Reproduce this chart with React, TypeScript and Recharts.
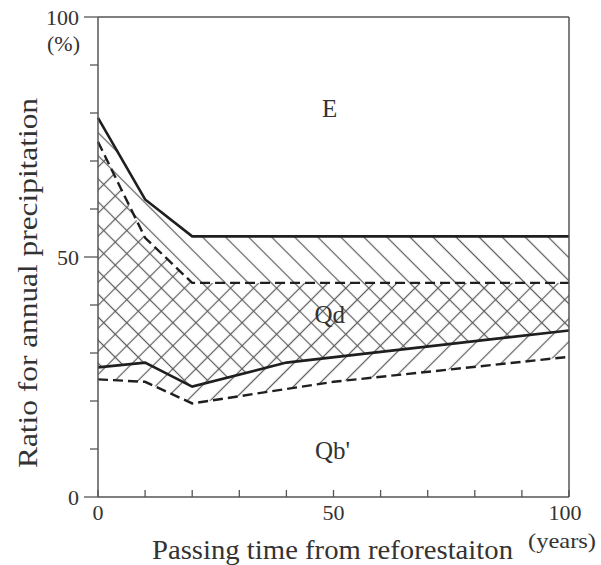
import { ComposedChart, Area, Line, XAxis, YAxis, ReferenceLine, ReferenceDot } from 'recharts';

// boundary lines (years after reforestation -> % of annual precipitation)
const upperSolidYears = [0, 10, 20, 100];
const upperSolidRatio = [79, 62, 54.3, 54.3];
const upperDashedYears = [0, 10, 20, 100];
const upperDashedRatio = [74, 54, 44.6, 44.6];
const lowerSolidYears = [0, 10, 20, 40, 100];
const lowerSolidRatio = [27, 28, 23, 28, 34.7];
const lowerDashedYears = [0, 10, 20, 50, 100];
const lowerDashedRatio = [24.5, 24, 19.5, 24, 29.2];

const xTicks = [0, 10, 20, 30, 40, 50, 60, 70, 80, 90, 100];
const yTicks = [0, 10, 20, 30, 40, 50, 60, 70, 80, 90, 100];
const labeledTicks = [0, 50, 100];

const zoneNames = ['E', 'Qd', "Qb'"];
const zoneYears = [49.2, 49.2, 49.8];
const zoneRatios = [80.9, 38, 9.7];

const toPoints = (years: number[], ratios: number[]) => years.map((t, i) => ({ t, v: ratios[i] }));

const upperSolid = toPoints(upperSolidYears, upperSolidRatio);
const upperDashed = toPoints(upperDashedYears, upperDashedRatio);
const lowerSolid = toPoints(lowerSolidYears, lowerSolidRatio);
const lowerDashed = toPoints(lowerDashedYears, lowerDashedRatio);

const serif = { fontFamily: "'Liberation Serif', 'Times New Roman', Tinos, serif" };
const TEXT = '#333';
const AXIS = '#555';
const INK = '#1f1f1f';
const HATCH = '#5c5c5c';
const STEP = 16.3;

function XTick({ x, y, payload }: any) {
  const v = payload.value;
  return (
    <g>
      <line x1={x} y1={y} x2={x} y2={y - 7} stroke={AXIS} strokeWidth={1.3} />
      {labeledTicks.includes(v) && (
        <text x={v === 100 ? x - 4 : x} y={y + 23} textAnchor="middle" style={serif} fontSize={22} fill={TEXT}>
          {v}
        </text>
      )}
      {v === 100 && (
        <text x={x - 7} y={y + 51} textAnchor="middle" style={serif} fontSize={22} fill={TEXT} textLength={68} lengthAdjust="spacingAndGlyphs">
          (years)
        </text>
      )}
    </g>
  );
}

function YTick({ x, y, payload }: any) {
  const v = payload.value;
  const major = labeledTicks.includes(v);
  return (
    <g>
      <line x1={x - (major ? 14 : 8)} y1={y} x2={x} y2={y} stroke={AXIS} strokeWidth={1.3} />
      {major && (
        <text x={x - 19} y={y + 7.5} textAnchor="end" style={serif} fontSize={22} fill={TEXT}>
          {v}
        </text>
      )}
      {v === 100 && (
        <text x={x - 18} y={y + 34} textAnchor="end" style={serif} fontSize={22} fill={TEXT}>
          (%)
        </text>
      )}
    </g>
  );
}

export default function App() {
  return (
    <div style={{ position: 'absolute', left: 0, top: 0, width: 601, height: 565, background: '#fff' }}>
      <ComposedChart width={601} height={565} margin={{ top: 17, right: 32, left: 0, bottom: 0 }}>
        <defs>
          <pattern id="hatchBack" patternUnits="userSpaceOnUse" width={STEP} height={STEP} patternTransform="rotate(-45)">
            <rect width={STEP} height={STEP} fill="#fff" />
            <line x1={STEP / 2} y1={0} x2={STEP / 2} y2={STEP} stroke={HATCH} strokeWidth={1.2} />
          </pattern>
          <pattern id="hatchCross" patternUnits="userSpaceOnUse" width={STEP} height={STEP} patternTransform="rotate(45)">
            <rect width={STEP} height={STEP} fill="#fff" />
            <line x1={STEP / 2} y1={0} x2={STEP / 2} y2={STEP} stroke={HATCH} strokeWidth={1.2} />
            <line x1={0} y1={STEP / 2} x2={STEP} y2={STEP / 2} stroke={HATCH} strokeWidth={1.2} />
          </pattern>
          <pattern id="hatchFwd" patternUnits="userSpaceOnUse" width={STEP} height={STEP} patternTransform="rotate(45)">
            <rect width={STEP} height={STEP} fill="#fff" />
            <line x1={STEP / 2} y1={0} x2={STEP / 2} y2={STEP} stroke={HATCH} strokeWidth={1.2} />
          </pattern>
        </defs>

        {/* stacked fills: each one paints over the one before, below its own boundary */}
        <Area data={upperSolid} dataKey="v" type="linear" stroke="none" fill="url(#hatchBack)" fillOpacity={1} isAnimationActive={false} />
        <Area data={upperDashed} dataKey="v" type="linear" stroke="none" fill="url(#hatchCross)" fillOpacity={1} isAnimationActive={false} />
        <Area data={lowerSolid} dataKey="v" type="linear" stroke="none" fill="url(#hatchFwd)" fillOpacity={1} isAnimationActive={false} />
        <Area data={lowerDashed} dataKey="v" type="linear" stroke="none" fill="#fff" fillOpacity={1} isAnimationActive={false} />

        <Line data={upperSolid} dataKey="v" type="linear" stroke={INK} strokeWidth={2.6} dot={false} isAnimationActive={false} />
        <Line data={upperDashed} dataKey="v" type="linear" stroke={INK} strokeWidth={2.4} strokeDasharray="10 5" dot={false} isAnimationActive={false} />
        <Line data={lowerSolid} dataKey="v" type="linear" stroke={INK} strokeWidth={2.6} dot={false} isAnimationActive={false} />
        <Line data={lowerDashed} dataKey="v" type="linear" stroke={INK} strokeWidth={2.4} strokeDasharray="10 5" dot={false} isAnimationActive={false} />

        <ReferenceLine x={100} stroke={AXIS} strokeWidth={1.5} />
        <ReferenceLine y={100} stroke={AXIS} strokeWidth={1.5} />

        {zoneNames.map((name, i) => (
          <ReferenceDot
            key={name}
            x={zoneYears[i]}
            y={zoneRatios[i]}
            r={0}
            fill="none"
            stroke="none"
            label={({ viewBox }: any) => (
              <text
                x={viewBox.x + viewBox.width / 2}
                y={viewBox.y + viewBox.height / 2 + 8.5}
                textAnchor="middle"
                style={serif}
                fontSize={25}
                fill={TEXT}
              >
                {name}
              </text>
            )}
          />
        ))}

        <XAxis
          type="number"
          dataKey="t"
          domain={[0, 100]}
          ticks={xTicks}
          interval={0}
          height={68}
          tickSize={0}
          tickMargin={0}
          tickLine={false}
          axisLine={{ stroke: AXIS, strokeWidth: 1.5 }}
          tick={<XTick />}
          label={() => (
            <text x={332.5} y={559} textAnchor="middle" style={serif} fontSize={28} fill={TEXT} textLength={361} lengthAdjust="spacingAndGlyphs">
              Passing time from reforestaiton
            </text>
          )}
        />
        <YAxis
          type="number"
          domain={[0, 100]}
          ticks={yTicks}
          interval={0}
          width={98}
          tickSize={0}
          tickMargin={0}
          tickLine={false}
          axisLine={{ stroke: AXIS, strokeWidth: 1.5 }}
          tick={<YTick />}
          label={() => (
            <text
              x={37}
              y={283}
              transform="rotate(-90, 37, 283)"
              textAnchor="middle"
              style={serif}
              fontSize={28}
              fill={TEXT}
              textLength={370}
              lengthAdjust="spacingAndGlyphs"
            >
              Ratio for annual precipitation
            </text>
          )}
        />
      </ComposedChart>
    </div>
  );
}
